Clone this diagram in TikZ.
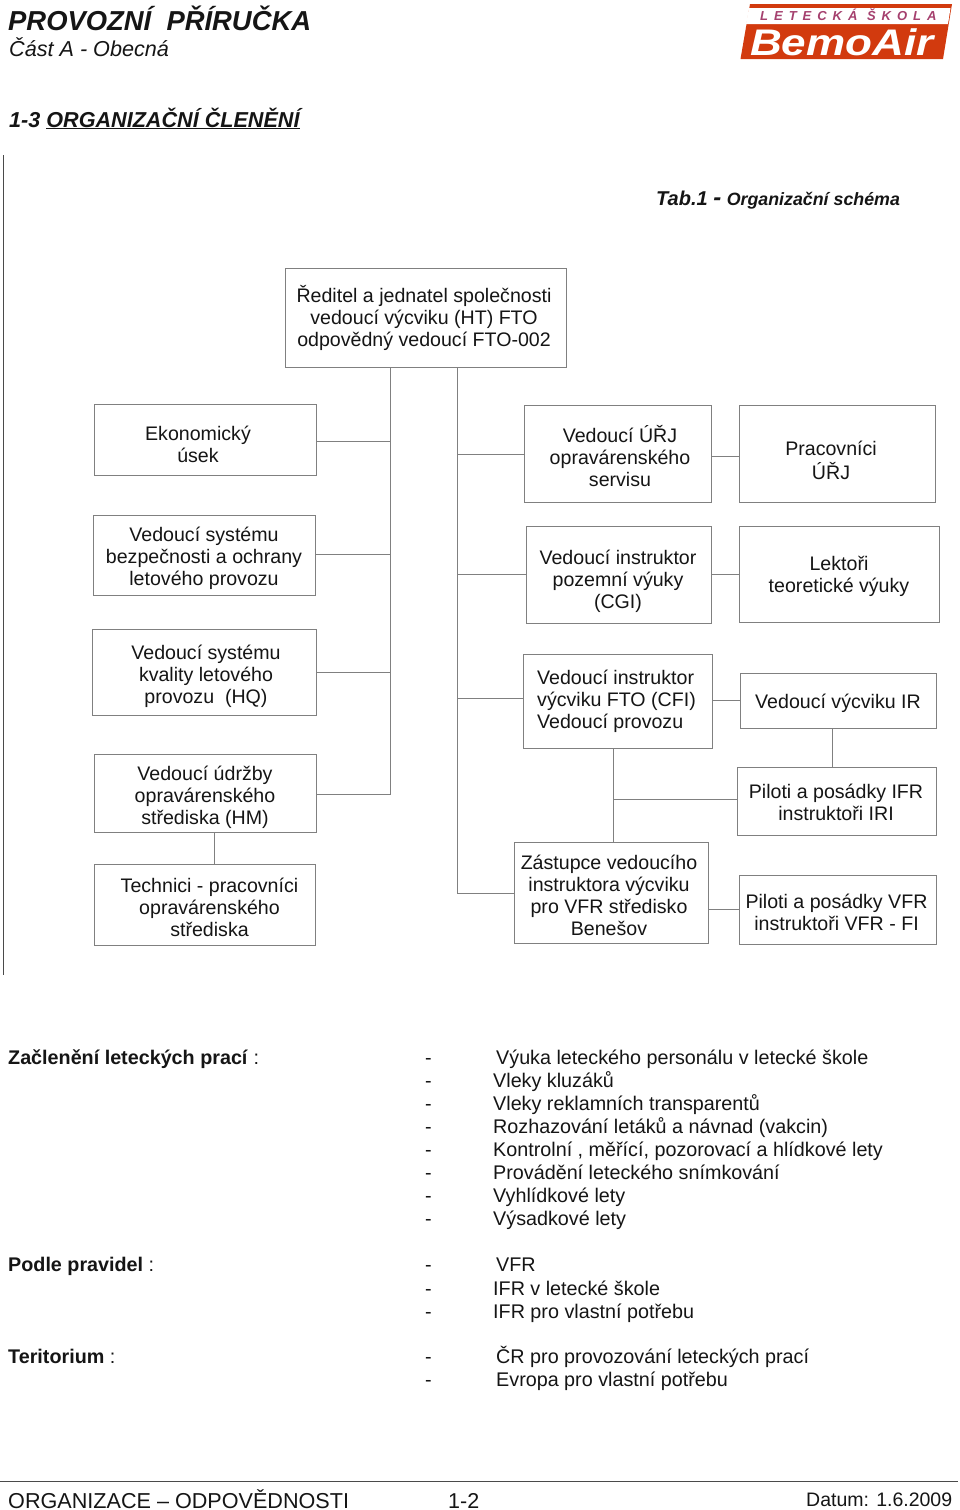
\documentclass[tikz,border=0pt]{standalone}
\usepackage{fontspec}
\setmainfont{Liberation Sans}
\newfontfamily\logofont[LetterSpace=46]{Liberation Sans}
\newfontfamily\logobig[FakeStretch=1.19]{Liberation Sans}
\definecolor{rule}{HTML}{808080}
\definecolor{darkrule}{HTML}{4A4A4A}
\definecolor{logored}{HTML}{D23A0E}
\definecolor{logopink}{HTML}{A5406E}
\definecolor{ink}{HTML}{151515}
\newcommand\fs[1]{\fontsize{#1}{#1}\selectfont}
\tikzset{
  boxnode/.style={draw=rule,line width=0.9pt,inner sep=0pt,fill=white,text=ink,font=\fontsize{19.6}{22}\selectfont},
  wire/.style={draw=rule,line width=0.9pt},
  txt/.style={anchor=base west,inner sep=0pt,text=ink,font=\fs{19.75}},
}
\newcommand\off[4]{\makebox[0pt]{\hspace{#1pt}\raisebox{#2pt}[0pt][0pt]{\begin{tabular}{@{}#3@{}}#4\end{tabular}}}}
% name x1 y1 x2 y2 dx dy align text
\newcommand\bx[9]{%
  \pgfmathsetmacro\bw{#4-#2}\pgfmathsetmacro\bh{#5-#3}%
  \pgfmathsetmacro\bcx{(#2+#4)/2}\pgfmathsetmacro\bcy{(#3+#5)/2}%
  \node[boxnode,minimum width=\bw pt,minimum height=\bh pt] (#1) at (\bcx,\bcy) {\off{#6}{#7}{#8}{#9}};}
\begin{document}
\begin{tikzpicture}[x=1pt,y=-1pt]
\useasboundingbox (0,0) rectangle (960,1510);
\fill[white] (0,0) rectangle (960,1510);
% header
\node[txt,font=\fs{27.4}\bfseries\itshape] (title) at (8,30) {PROVOZNÍ\ \ PŘÍRUČKA};
\node[txt,font=\fs{21.6}\itshape] (part) at (9,56) {Část A - Obecná};
\node[txt,font=\fs{21.6}\bfseries\itshape] (sect) at (9,127) {1-3 \underline{ORGANIZAČNÍ ČLENĚNÍ}};
\node[txt,font=\fs{20}\bfseries\itshape] (tab) at (656,205) {Tab.1 {\fs{24}-} {\fs{17.8}Organizační schéma}};
% logo
\fill[logored] (750,4) -- (952,4) -- (943,59) -- (740.5,59) -- cycle;
\fill[white] (749,8) -- (950.5,8) -- (948,24) -- (746,24) -- cycle;
\node[txt,text=logopink,font=\fs{13}\logofont\bfseries\itshape] (logo1) at (760,20) {LETECKÁ ŠKOLA};
\node[txt,text=white,font=\fs{37}\logobig\bfseries\itshape] (logo2) at (750,55) {BemoAir};
% left rule
\coordinate (la) at (3,155); \coordinate (lb) at (3,975);
\draw[wire,draw=darkrule] (la) -- (lb);
% boxes
\bx{top}{285}{268}{566}{367}{-3}{-7}{c}{Ředitel a jednatel společnosti\\vedoucí výcviku (HT) FTO\\odpovědný vedoucí FTO-002}
\bx{ek}{94}{404}{316}{475}{-14}{-13}{c}{Ekonomický\\úsek}
\bx{bez}{93}{515}{315}{595}{0}{-9}{c}{Vedoucí systému\\bezpečnosti a ochrany\\letového provozu}
\bx{kval}{92}{629}{316}{715}{4}{-10}{c}{Vedoucí systému\\kvality letového\\provozu\ \ (HQ)}
\bx{udr}{94}{754}{316}{832}{0}{-10}{c}{Vedoucí údržby\\opravárenského\\střediska (HM)}
\bx{tech}{94}{864}{315}{945}{10}{-11}{c}{Technici - pracovníci\\opravárenského\\střediska}
\bx{ser}{524}{405}{711}{502}{5}{-11}{c}{Vedoucí ÚŘJ\\opravárenského\\servisu}
\bx{cgi}{526}{526}{711}{623}{-1}{-13}{c}{Vedoucí instruktor\\pozemní výuky\\(CGI)}
\bx{cfi}{523}{654}{712}{748}{-2}{-6}{l}{Vedoucí instruktor\\výcviku FTO (CFI)\\Vedoucí provozu}
\bx{zas}{514}{842}{708}{943}{-4}{-11}{c}{Zástupce vedoucího\\instruktora výcviku\\pro VFR středisko\\Benešov}
\bx{prac}{739}{405}{935}{502}{-12}{-15}{c}{Pracovníci\\ÚŘJ}
\bx{lekt}{739}{526}{939}{622}{0}{-8}{c}{Lektoři\\teoretické výuky}
\bx{ir}{740}{673}{936}{728}{0}{-9}{c}{Vedoucí výcviku IR}
\bx{ifr}{737}{767}{936}{835}{-1}{-9}{c}{Piloti a posádky IFR\\instruktoři IRI}
\bx{vfr}{739}{875}{936}{944}{-2}{-11}{c}{Piloti a posádky VFR\\instruktoři VFR - FI}
% connectors
\coordinate (tra) at (390,0);
\coordinate (trb) at (457,0);
\coordinate (trc) at (613,0);
\coordinate (trd) at (832,0);
\coordinate (tre) at (214,0);
\draw[wire] (top.south -| tra) |- ([yshift=-1pt]udr.east);
\draw[wire] ([yshift=-1.5pt]ek.east) -- ([yshift=-1.5pt]ek.east -| tra);
\draw[wire] ([yshift=1pt]bez.east) -- ([yshift=1pt]bez.east -| tra);
\draw[wire] (kval.east) -- (kval.east -| tra);
\draw[wire] (top.south -| trb) |- ([yshift=-0.5pt]zas.west);
\draw[wire] ([yshift=-0.5pt]ser.west) -- ([yshift=-0.5pt]ser.west -| trb);
\draw[wire] (cgi.west) -- (cgi.west -| trb);
\draw[wire] ([yshift=3pt]cfi.west) -- ([yshift=3pt]cfi.west -| trb);
\draw[wire] ([yshift=-2.5pt]ser.east) -- ([yshift=-2.5pt]ser.east -| prac.west);
\draw[wire] (cgi.east |- lekt.west) -- (lekt.west);
\draw[wire] (cfi.east |- ir.west) -- (ir.west);
\draw[wire] (ir.south -| trd) -- (ifr.north -| trd);
\draw[wire] (cfi.south -| trc) -- (zas.north -| trc);
\draw[wire] ([yshift=2pt]ifr.west) -- ([yshift=2pt]ifr.west -| trc);
\draw[wire] (zas.east |- vfr.west) -- (vfr.west);
\draw[wire] (udr.south -| tre) -- (tech.north -| tre);
% lists
\node[txt] (l1) at (8,1064) {\textbf{Začlenění leteckých prací} :};
\node[txt] (d1) at (425,1064) {-};
\node[txt] (i1) at (496,1064) {Výuka leteckého personálu v letecké škole};
\node[txt] (d2) at (425,1087) {-};
\node[txt] (i2) at (493,1087) {Vleky kluzáků};
\node[txt] (d3) at (425,1110) {-};
\node[txt] (i3) at (493,1110) {Vleky reklamních transparentů};
\node[txt] (d4) at (425,1133) {-};
\node[txt] (i4) at (493,1133) {Rozhazování letáků a návnad (vakcin)};
\node[txt] (d5) at (425,1156) {-};
\node[txt] (i5) at (493,1156) {Kontrolní , měřící, pozorovací a hlídkové lety};
\node[txt] (d6) at (425,1179) {-};
\node[txt] (i6) at (493,1179) {Provádění leteckého snímkování};
\node[txt] (d7) at (425,1202) {-};
\node[txt] (i7) at (493,1202) {Vyhlídkové lety};
\node[txt] (d8) at (425,1225) {-};
\node[txt] (i8) at (493,1225) {Výsadkové lety};
\node[txt] (l2) at (8,1271) {\textbf{Podle pravidel} :};
\node[txt] (d9) at (425,1271) {-};
\node[txt] (i9) at (496,1271) {VFR};
\node[txt] (d10) at (425,1295) {-};
\node[txt] (i10) at (493,1295) {IFR v letecké škole};
\node[txt] (d11) at (425,1318) {-};
\node[txt] (i11) at (493,1318) {IFR pro vlastní potřebu};
\node[txt] (l3) at (8,1363) {\textbf{Teritorium} :};
\node[txt] (d12) at (425,1363) {-};
\node[txt] (i12) at (496,1363) {ČR pro provozování leteckých prací};
\node[txt] (d13) at (425,1386) {-};
\node[txt] (i13) at (496,1386) {Evropa pro vlastní potřebu};
% footer
\coordinate (fa) at (0,1481); \coordinate (fb) at (958,1481);
\draw[wire,draw=darkrule,line width=1pt] (fa) -- (fb);
\node[txt,font=\fs{21.6}] (f1) at (8,1508) {ORGANIZACE – ODPOVĚDNOSTI};
\node[txt,font=\fs{21.5}] (f2) at (448,1508) {1-2};
\node[txt,font=\fs{19.5}] (f3) at (806,1506) {Datum: 1.6.2009};
\end{tikzpicture}
\end{document}
